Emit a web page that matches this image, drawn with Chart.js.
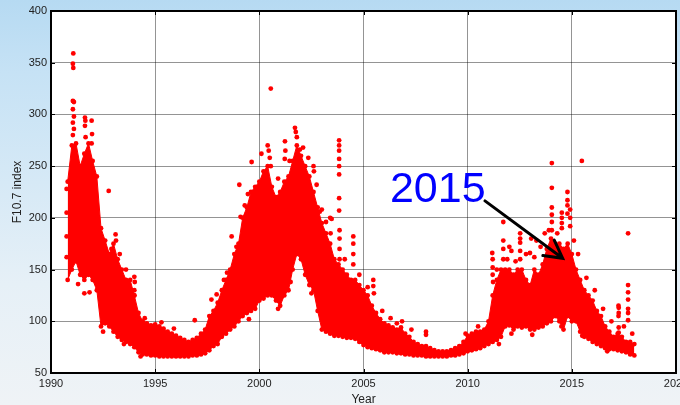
<!DOCTYPE html>
<html>
<head>
	<meta charset="utf-8">
	<title>F10.7 index</title>
	<script src="https://cdn.jsdelivr.net/npm/chart.js@4.4.1/dist/chart.umd.min.js"></script>
	<style>
		html, body { margin: 0; padding: 0; }
		body {
			width: 680px; height: 405px; overflow: hidden;
			background: linear-gradient(180deg, #b6daf2 0%, #c6e2f5 18%, #d6e9f6 45%, #e6f0f7 70%, #eff3f6 100%);
		}
		#canvas-container { position: relative; width: 680px; height: 405px; }
	</style>
</head>
<body>
	<div id="canvas-container">
		<canvas id="chart1" width="680" height="405"></canvas>
	</div>
	<script type="text/javascript">
		// dense daily band: lower / upper edge every 0.2 yr
		var bandYears = [1990.8, 1991.0, 1991.2, 1991.4, 1991.6, 1991.8, 1992.0, 1992.2, 1992.4, 1992.6, 1992.8,
			1993.0, 1993.2, 1993.4, 1993.6, 1993.8, 1994.0, 1994.2, 1994.4, 1994.6, 1994.8,
			1995.0, 1995.2, 1995.4, 1995.6, 1995.8, 1996.0, 1996.2, 1996.4, 1996.6, 1996.8,
			1997.0, 1997.2, 1997.4, 1997.6, 1997.8, 1998.0, 1998.2, 1998.4, 1998.6, 1998.8,
			1999.0, 1999.2, 1999.4, 1999.6, 1999.8, 2000.0, 2000.2, 2000.4, 2000.6, 2000.8,
			2001.0, 2001.2, 2001.4, 2001.6, 2001.8, 2002.0, 2002.2, 2002.4, 2002.6, 2002.8,
			2003.0, 2003.2, 2003.4, 2003.6, 2003.8, 2004.0, 2004.2, 2004.4, 2004.6, 2004.8,
			2005.0, 2005.2, 2005.4, 2005.6, 2005.8, 2006.0, 2006.2, 2006.4, 2006.6, 2006.8,
			2007.0, 2007.2, 2007.4, 2007.6, 2007.8, 2008.0, 2008.2, 2008.4, 2008.6, 2008.8,
			2009.0, 2009.2, 2009.4, 2009.6, 2009.8, 2010.0, 2010.2, 2010.4, 2010.6, 2010.8,
			2011.0, 2011.2, 2011.4, 2011.6, 2011.8, 2012.0, 2012.2, 2012.4, 2012.6, 2012.8,
			2013.0, 2013.2, 2013.4, 2013.6, 2013.8, 2014.0, 2014.2, 2014.4, 2014.6, 2014.8,
			2015.0, 2015.2, 2015.4, 2015.6, 2015.8, 2016.0, 2016.2, 2016.4, 2016.6, 2016.8,
			2017.0, 2017.2, 2017.4, 2017.6, 2017.8, 2018.0];
		var bandLow = [140, 150, 158, 145, 140, 145, 140, 130, 95, 98, 95,
			90, 85, 82, 80, 78, 75, 70, 68, 68, 67,
			67, 66, 66, 66, 66, 66, 66, 66, 66, 67,
			67, 68, 69, 72, 76, 78, 85, 88, 92, 95,
			100, 105, 108, 110, 112, 120, 122, 125, 125, 120,
			115, 125, 130, 150, 165, 160, 145, 135, 130, 110,
			92, 90, 88, 86, 86, 85, 84, 84, 83, 80,
			77, 75, 74, 73, 72, 70, 70, 70, 69, 69,
			68, 68, 67, 67, 67, 66, 66, 66, 66, 66,
			66, 67, 67, 68, 69, 71, 72, 73, 74, 76,
			78, 80, 82, 85, 95, 96, 92, 95, 94, 95,
			92, 92, 94, 95, 98, 100, 105, 100, 92, 105,
			100, 100, 90, 85, 83, 80, 78, 76, 74, 73,
			73, 72, 71, 70, 68, 67];
		var bandHigh = [235, 270, 272, 250, 262, 272, 255, 240, 190, 178, 165,
			175, 160, 150, 140, 140, 125, 108, 100, 98, 96,
			97, 95, 93, 90, 88, 86, 84, 82, 80, 82,
			84, 88, 92, 105, 110, 118, 130, 140, 150, 165,
			175, 200, 210, 225, 230, 235, 245, 250, 230, 220,
			225, 235, 240, 255, 270, 260, 250, 240, 225, 210,
			195, 185, 175, 160, 155, 150, 145, 140, 140, 135,
			130, 125, 115, 108, 102, 98, 96, 94, 92, 94,
			88, 85, 80, 78, 76, 76, 74, 72, 71, 71,
			71, 72, 74, 76, 80, 86, 88, 90, 90, 92,
			100, 125, 140, 150, 150, 150, 145, 150, 150, 140,
			135, 150, 145, 155, 170, 180, 175, 175, 170, 175,
			165, 150, 140, 130, 125, 120, 110, 105, 95, 90,
			85, 88, 85, 80, 80, 78];

		// isolated days above / below the band
		var outYears = [1991.07, 1991.05, 1991.07, 1991.05, 1991.1, 1991.05, 1991.1, 1991.05, 1991.1, 1991.05,
			1991.63, 1991.65, 1991.63, 1991.66, 1991.6, 1991.95, 1991.97, 1991.95, 1992.77, 1993.1, 1993.12,
			1994.0, 1994.02, 1996.9, 1997.7, 1998.67, 1999.04, 1999.1, 1999.45, 1999.63,
			2000.55, 2000.4, 2000.45, 2000.5, 2000.55, 2001.23, 2001.25, 2001.22,
			2001.71, 2001.75, 2001.8, 2001.95, 2002.6, 2002.62, 2003.0, 2002.9, 2003.4, 2003.42, 2003.47,
			2003.83, 2003.83, 2003.83, 2003.83, 2003.83, 2003.83, 2003.83, 2003.83, 2003.85, 2003.85, 2003.85, 2003.85,
			2004.51, 2004.51, 2004.51, 2004.51, 2005.47, 2005.47, 2005.5, 2006.3, 2006.85, 2008.0, 2008.0,
			2011.18, 2011.2, 2011.2, 2011.2, 2011.22, 2011.71, 2011.71, 2011.71, 2011.71,
			2012.0, 2012.1, 2012.52, 2012.52, 2012.52, 2012.52, 2012.52, 2012.8, 2012.99,
			2013.05, 2013.3, 2013.5, 2013.7,
			2014.04, 2014.04, 2014.04, 2014.04, 2014.04, 2014.04, 2014.52, 2014.52, 2014.52, 2014.52,
			2014.79, 2014.79, 2014.79, 2014.79, 2014.92, 2014.92, 2014.92, 2015.48,
			2017.25, 2017.25, 2017.25, 2017.25, 2017.24, 2017.24,
			2017.7, 2017.7, 2017.7, 2017.7, 2017.7, 2017.7, 2017.7];
		var outValues = [359, 349, 345, 313, 312, 305, 298, 292, 286, 280,
			297, 294, 289, 278, 127, 294, 281, 272, 226, 184, 178,
			143, 138, 101, 121, 182, 232, 201, 223, 254,
			325, 270, 265, 258, 250, 274, 265, 257,
			287, 283, 278, 266, 250, 245, 208, 206, 200, 185, 199,
			275, 270, 265, 257, 250, 242, 219, 207, 188, 180, 170, 160,
			182, 175, 165, 155, 140, 134, 127, 103, 100, 90, 87,
			166, 160, 152, 145, 138, 196, 178, 170, 160,
			172, 168, 185, 180, 176, 168, 160, 165, 166,
			180, 178, 172, 185,
			253, 229, 210, 203, 196, 188, 205, 200, 195, 190,
			225, 217, 212, 204, 208, 200, 192, 255,
			113, 108, 94, 89, 115, 105,
			185, 135, 128, 121, 112, 108, 101];

		// scattered days along the ragged edges of the band
		var edgeYears = [1990.75, 1990.75, 1990.75, 1990.75, 1991.3, 1991.85, 1992.35, 1992.35, 1992.45, 1992.9,
			1993.3, 1993.6, 1994.0, 1994.0, 1994.5, 1995.3, 1995.9, 1997.95, 1998.3, 1998.45,
			1998.9, 1999.3, 2000.1, 2000.9, 2001.45, 2002.1, 2002.35, 2002.75, 2003.2, 2004.1,
			2004.8, 2005.2, 2005.9, 2006.6, 2007.3, 2009.9, 2010.5, 2011.4, 2011.9, 2012.3,
			2013.2, 2013.9, 2014.3, 2015.1, 2015.3, 2015.7, 2016.1, 2016.5, 2016.9, 2017.5,
			2017.9, 1992.5, 1993.5, 1994.3, 1999.5, 2000.9, 2001.5, 2002.5, 2011.5, 2012.1,
			2013.1, 2014.5, 2015.5, 2016.7];
		var edgeValues = [228, 205, 182, 162, 136, 128, 183, 176, 178, 170,
			165, 150, 130, 125, 103, 99, 93, 126, 140, 147,
			172, 212, 262, 238, 255, 268, 258, 232, 196, 160,
			145, 133, 110, 98, 92, 88, 95, 150, 160, 158,
			162, 188, 185, 178, 165, 142, 130, 112, 100, 95,
			88, 90, 78, 66, 102, 112, 138, 127, 78, 88,
			87, 95, 86, 71];

		var xTicks = [1990, 1995, 2000, 2005, 2010, 2015, 2020];
		var yTicks = [50, 100, 150, 200, 250, 300, 350, 400];

		// label + arrow, in data units
		var noteText = '2015';
		var noteAt = [2006.27, 215.6];
		var arrowFrom = [2010.83, 216.4];
		var arrowTo = [2014.56, 160.9];

		var red = '#ff0000';
		var font = 'Liberation Sans';

		function pts(xs, ys) {
			return xs.map(function(v, i) { return {x: v, y: ys[i]}; });
		}

		var plotBg = {
			id: 'plotBg',
			beforeDraw: function(chart) {
				var a = chart.chartArea, ctx = chart.ctx;
				ctx.save();
				ctx.fillStyle = '#ffffff';
				ctx.fillRect(a.left, a.top, a.right - a.left, a.bottom - a.top);
				ctx.restore();
			}
		};

		// box frame with inward tick marks on all four sides
		var frame = {
			id: 'frame',
			afterDatasetsDraw: function(chart) {
				var a = chart.chartArea, ctx = chart.ctx;
				var sx = chart.scales.x, sy = chart.scales.y;
				ctx.save();
				ctx.strokeStyle = '#000';
				ctx.lineWidth = 1;
				ctx.beginPath();
				xTicks.forEach(function(t) {
					var px = Math.round(sx.getPixelForValue(t)) + 0.5;
					ctx.moveTo(px, a.bottom); ctx.lineTo(px, a.bottom - 4);
					ctx.moveTo(px, a.top); ctx.lineTo(px, a.top + 4);
				});
				yTicks.forEach(function(t) {
					var py = Math.round(sy.getPixelForValue(t)) + 0.5;
					ctx.moveTo(a.left, py); ctx.lineTo(a.left + 4, py);
					ctx.moveTo(a.right, py); ctx.lineTo(a.right - 4, py);
				});
				ctx.stroke();
				ctx.lineWidth = 2;
				ctx.strokeRect(a.left, a.top, a.right - a.left, a.bottom - a.top);
				ctx.restore();
			}
		};

		var note = {
			id: 'note',
			afterDatasetsDraw: function(chart) {
				var ctx = chart.ctx, sx = chart.scales.x, sy = chart.scales.y;
				ctx.save();
				ctx.fillStyle = '#0000ff';
				ctx.font = '43px "' + font + '"';
				ctx.textBaseline = 'alphabetic';
				ctx.fillText(noteText, sx.getPixelForValue(noteAt[0]), sy.getPixelForValue(noteAt[1]));

				var x0 = sx.getPixelForValue(arrowFrom[0]), y0 = sy.getPixelForValue(arrowFrom[1]);
				var x1 = sx.getPixelForValue(arrowTo[0]), y1 = sy.getPixelForValue(arrowTo[1]);
				var ang = Math.atan2(y1 - y0, x1 - x0), head = 20, spread = 0.5;
				ctx.strokeStyle = '#000';
				ctx.lineWidth = 3;
				ctx.lineCap = 'round';
				ctx.beginPath();
				ctx.moveTo(x0, y0); ctx.lineTo(x1, y1);
				ctx.moveTo(x1 - head * Math.cos(ang - spread), y1 - head * Math.sin(ang - spread));
				ctx.lineTo(x1, y1);
				ctx.lineTo(x1 - head * Math.cos(ang + spread), y1 - head * Math.sin(ang + spread));
				ctx.stroke();
				ctx.restore();
			}
		};

		var dot = { pointRadius: 2.4, pointBorderWidth: 0, pointBackgroundColor: red };

		var ctx1 = document.getElementById('chart1');
		var chart1 = new Chart(ctx1, {
			type: 'scatter',
			data: {
				datasets: [Object.assign({
					label: 'low',
					data: pts(bandYears, bandLow),
					showLine: true,
					borderColor: red,
					borderWidth: 1,
					fill: false
				}, dot), Object.assign({
					label: 'high',
					data: pts(bandYears, bandHigh),
					showLine: true,
					borderColor: red,
					borderWidth: 1,
					backgroundColor: red,
					fill: '-1'
				}, dot), Object.assign({
					label: 'days',
					data: pts(outYears, outValues)
				}, dot), Object.assign({
					label: 'edge',
					data: pts(edgeYears, edgeValues)
				}, dot)]
			},
			options: {
				responsive: false,
				devicePixelRatio: 1,
				animation: false,
				layout: { padding: { left: 0, top: 11, right: 4, bottom: 0 } },
				plugins: {
					legend: { display: false },
					tooltip: { enabled: false }
				},
				scales: {
					x: {
						type: 'linear',
						min: 1990, max: 2020,
						afterBuildTicks: function(s) { s.ticks = xTicks.map(function(v) { return {value: v}; }); },
						afterFit: function(s) { s.height = 32; s.paddingLeft = 0; s.paddingRight = 0; },
						ticks: {
							callback: function(v) { return String(v); },
							color: '#222',
							font: { family: font, size: 11 },
							padding: 4,
							maxRotation: 0,
							autoSkip: false
						},
						grid: { color: 'rgba(0,0,0,0.42)', lineWidth: 1, drawTicks: false },
						border: { color: '#000', width: 2 },
						title: {
							display: true, text: 'Year', color: '#222',
							font: { family: font, size: 12 },
							padding: { top: 0, bottom: -2 }
						}
					},
					y: {
						min: 50, max: 400,
						afterBuildTicks: function(s) { s.ticks = yTicks.map(function(v) { return {value: v}; }); },
						afterFit: function(s) { s.width = 51; s.paddingTop = 0; s.paddingBottom = 0; },
						ticks: {
							color: '#222',
							font: { family: font, size: 11 },
							padding: 4
						},
						grid: { color: 'rgba(0,0,0,0.42)', lineWidth: 1, drawTicks: false },
						border: { color: '#000', width: 2 },
						title: {
							display: true, text: 'F10.7 index', color: '#222',
							font: { family: font, size: 12 },
							padding: { top: 10, bottom: 0 }
						}
					}
				}
			},
			plugins: [plotBg, frame, note]
		});
	</script>
</body>
</html>
